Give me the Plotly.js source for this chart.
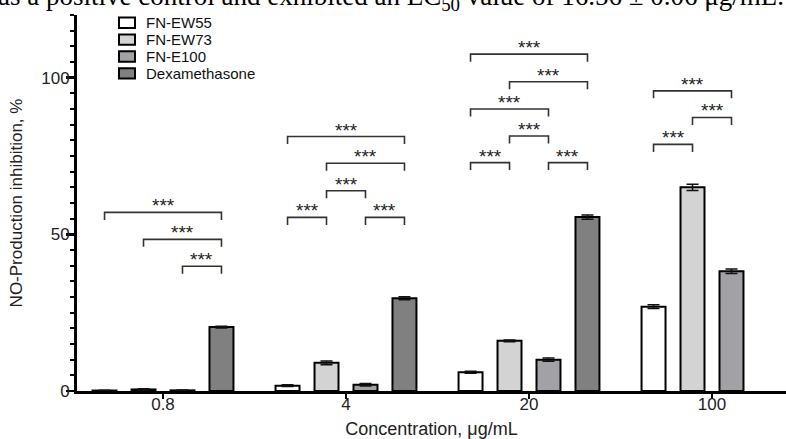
<!DOCTYPE html>
<html>
<head>
<meta charset="utf-8">
<script src="https://cdn.plot.ly/plotly-3.0.1.min.js"></script>
<style>html,body{margin:0;padding:0;background:#fff;}#chart{width:786px;height:439px;}</style>
</head>
<body>
<div id="chart"></div>
<script>
// ---- data ----
const categories = ['0.8', '4', '20', '100'];
const seriesNames = ['FN-EW55', 'FN-EW73', 'FN-E100', 'Dexamethasone'];
const fnEW55 = [0.15, 1.7, 6.0, 26.9];
const fnEW55Err = [0.1, 0.3, 0.3, 0.6];
const fnEW73 = [0.5, 9.0, 16.0, 65.0];
const fnEW73Err = [0.2, 0.6, 0.3, 1.0];
const fnE100 = [0.2, 2.0, 10.0, 38.2];
const fnE100Err = [0.1, 0.4, 0.5, 0.7];
const dexamethasone = [20.4, 29.6, 55.5, null];
const dexamethasoneErr = [0.3, 0.5, 0.7, null];
// significance brackets: [category index, from series, to series, bracket level]
const brackets = [
  [0, 0, 3, 57.0], [0, 1, 3, 48.4], [0, 2, 3, 39.8],
  [1, 0, 3, 81.2], [1, 1, 3, 72.7], [1, 1, 2, 63.9], [1, 0, 1, 55.4], [1, 2, 3, 55.4],
  [2, 0, 3, 107.5], [2, 1, 3, 98.7], [2, 0, 2, 90.0], [2, 1, 2, 81.4], [2, 0, 1, 72.9], [2, 2, 3, 72.9],
  [3, 0, 2, 95.8], [3, 1, 2, 87.3], [3, 0, 1, 78.7]
];
const starLabel = '***';
const headerText = 'as a positive control and exhibited an EC<sub>50</sub> value of 16.56 ± 0.06 μg/mL.';

// ---- style ----
const fills = ['#ffffff', '#d3d3d3', '#a2a2a6', '#808080'];
const FONT = 'Liberation Sans, Arial, sans-serif';
const bargap = 0.148, bargroupgap = 0.385;
const W = 786, H = 439, ML = 77, MR = 0, MT = 15, MB = 48;
const PW = W - ML - MR, PH = H - MT - MB;

const values = [fnEW55, fnEW73, fnE100, dexamethasone];
const errs = [fnEW55Err, fnEW73Err, fnE100Err, dexamethasoneErr];
const pos = categories.map((c, i) => i);

const traces = values.map((v, k) => ({
  type: 'bar',
  name: seriesNames[k],
  x: pos,
  y: v,
  marker: {color: fills[k], line: {color: '#000', width: 2}},
  error_y: {type: 'data', array: errs[k], visible: true, color: '#111', thickness: 1.5, width: 6},
  showlegend: false,
  hoverinfo: 'y'
}));

const nS = values.length;
const slot = (1 - bargap) / nS;
const offset = b => (b - (nS - 1) / 2) * slot;
const tickDrop = 2.4;

const shapes = [];
const annotations = [];
brackets.forEach(([g, a, b, lvl]) => {
  const x0 = g + offset(a), x1 = g + offset(b);
  shapes.push({
    type: 'path', xref: 'x', yref: 'y',
    path: `M ${x0},${lvl - tickDrop} L ${x0},${lvl} L ${x1},${lvl} L ${x1},${lvl - tickDrop}`,
    line: {color: '#333', width: 1.6}
  });
  annotations.push({
    xref: 'x', yref: 'y', x: (x0 + x1) / 2, y: lvl, yanchor: 'bottom', xanchor: 'center',
    yshift: -6, showarrow: false, text: starLabel,
    font: {family: FONT, size: 19, color: '#222'}
  });
});

// legend (drawn as paper-referenced boxes + labels)
const px2x = p => (p - ML) / PW;
const py2y = p => (H - MB - p) / PH;
const legendRowsY = [22.7, 39.6, 56.5, 73.4];
seriesNames.forEach((nm, k) => {
  const cy = legendRowsY[k];
  shapes.push({
    type: 'rect', xref: 'paper', yref: 'paper',
    x0: px2x(119), x1: px2x(135), y0: py2y(cy + 5.2), y1: py2y(cy - 5.2),
    fillcolor: fills[k], line: {color: '#000', width: 2}
  });
  annotations.push({
    xref: 'paper', yref: 'paper', x: px2x(145), y: py2y(cy), xanchor: 'left', yanchor: 'middle',
    showarrow: false, text: nm, borderpad: 0, font: {family: FONT, size: 15, color: '#111'}
  });
});

// clipped caption line from the source page
annotations.push({
  xref: 'paper', yref: 'paper', x: px2x(-4), y: py2y(17), xanchor: 'left', yanchor: 'bottom',
  showarrow: false, text: headerText,
  font: {family: 'Liberation Serif, Times New Roman, serif', size: 27, color: '#000'}
});

const layout = {
  width: W, height: H,
  margin: {l: ML, r: MR, t: MT, b: MB, pad: 0},
  paper_bgcolor: '#fff', plot_bgcolor: '#fff',
  barmode: 'group', bargap: bargap, bargroupgap: bargroupgap,
  showlegend: false,
  font: {family: FONT, color: '#222'},
  xaxis: {
    range: [-86 / 183, -86 / 183 + PW / 183],
    tickmode: 'array', tickvals: pos, ticktext: categories,
    ticks: 'outside', ticklen: 5, tickwidth: 2, tickcolor: '#000',
    ticklabelstandoff: -9,
    showline: true, linecolor: '#000', linewidth: 2.5,
    showgrid: false, zeroline: false,
    tickfont: {family: FONT, size: 17, color: '#222'},
    title: {text: 'Concentration, μg/mL', font: {family: FONT, size: 18, color: '#222'}, standoff: 16}
  },
  yaxis: {
    range: [0, 120], tick0: 0, dtick: 50,
    ticks: 'outside', ticklen: 8, tickwidth: 2.5, tickcolor: '#000',
    ticklabelstandoff: -7,
    minor: {dtick: 5, tick0: 0, ticks: 'outside', ticklen: 4, tickwidth: 2, tickcolor: '#000', showgrid: false},
    showline: true, linecolor: '#000', linewidth: 3,
    showgrid: false, zeroline: false,
    tickfont: {family: FONT, size: 17, color: '#222'},
    title: {text: 'NO-Production inhibition, %', font: {family: FONT, size: 17, color: '#222'}, standoff: 15}
  },
  shapes: shapes,
  annotations: annotations
};

Plotly.newPlot('chart', traces, layout, {displayModeBar: false, staticPlot: true});
</script>
</body>
</html>
